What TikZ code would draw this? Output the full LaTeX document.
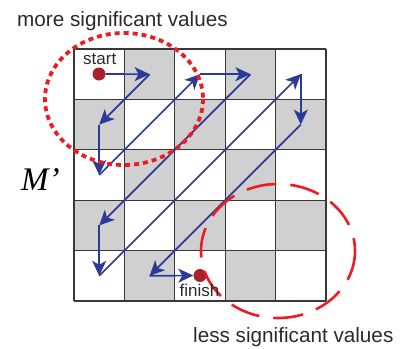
\documentclass[tikz,border=0pt]{standalone}
\usepackage{fontspec}
\setmainfont{Liberation Sans}
\newfontfamily\serifit{Liberation Serif}
\usetikzlibrary{arrows.meta}
\definecolor{cellgrey}{HTML}{D0D0D0}
\definecolor{gridcol}{HTML}{383838}
\definecolor{pathblue}{HTML}{2B3A97}
\definecolor{dotred}{HTML}{A6232B}
\definecolor{ringred}{HTML}{EC1C24}
\definecolor{txt}{HTML}{2A2A2A}
\tikzset{
  gridline/.style={draw=gridcol, line width=1.2pt},
  greycell/.style={fill=cellgrey},
  scanarrow/.style={draw=pathblue, line width=1.7pt, -{Stealth[length=15pt,width=14pt,inset=4pt]}},
  dotnode/.style={circle, fill=dotred, minimum size=13pt, inner sep=0pt},
  bigtext/.style={font=\fontsize{20.7}{24}\selectfont, text=txt, inner sep=0pt},
  smalltext/.style={font=\fontsize{17}{20}\selectfont, text=txt, inner sep=0pt},
  ringmore/.style={draw=ringred, line width=3.8pt, dash pattern=on 5pt off 4pt},
  ringless/.style={draw=ringred, line width=2.6pt, dash pattern=on 30pt off 14pt},
}
\begin{document}
\begin{tikzpicture}[x=1pt,y=-1pt]
\useasboundingbox (0,0) rectangle (401,348);
% grey cells
\foreach \r/\c in {0/1,0/3,1/0,1/2,1/4,2/1,2/3,3/0,3/2,3/4,4/1,4/3}{
  \fill[greycell] ({74+50.4*\c},{49+50.4*\r}) rectangle ++(50.4,50.4);
}
% grid lines
\foreach \i in {0,...,5}{
  \draw[gridline] ({74+50.4*\i},49) -- ({74+50.4*\i},301);
  \draw[gridline] (74,{49+50.4*\i}) -- (326,{49+50.4*\i});
}
% cell centres
\foreach \r in {0,...,4}{
  \foreach \c in {0,...,4}{
    \coordinate (c\r\c) at ({74+50.4*(\c+0.5)},{49+50.4*(\r+0.5)});
  }
}
% dots
\node[dotnode] (start) at (99,74) {};
\node[dotnode] (finish) at (200,275.5) {};
% scan path
\draw[scanarrow] (start) -- (c01);
\draw[scanarrow] (c01) -- (c10);
\draw[scanarrow] (c10) -- (c20);
\draw[scanarrow] (c20) -- (c02);
\draw[scanarrow] (c02) -- (c03);
\draw[scanarrow] (c03) -- (c30);
\draw[scanarrow] (c30) -- (c40);
\draw[scanarrow] (c40) -- (c04);
\draw[scanarrow] (c04) -- (c14);
\draw[scanarrow] (c14) -- (c41);
\draw[scanarrow] (c41) -- (finish);
% rings
\draw[ringmore] (124,99) ellipse [x radius=79, y radius=66];
\draw[ringless] (278,251) ellipse [x radius=77, y radius=67];
% texts
\node[bigtext, anchor=base west] (more) at (17,27) {more significant values};
\node[bigtext, anchor=base west] (less) at (193,342.5) {less significant values};
\node[smalltext, anchor=base west] (starttext) at (83,64) {start};
\node[smalltext, anchor=base west] (finishtext) at (179.5,296) {finish};
\node[anchor=base west, inner sep=0pt, font=\serifit\itshape\fontsize{33}{36}\selectfont] (mlabel) at (21,190) {M’};
\end{tikzpicture}
\end{document}
